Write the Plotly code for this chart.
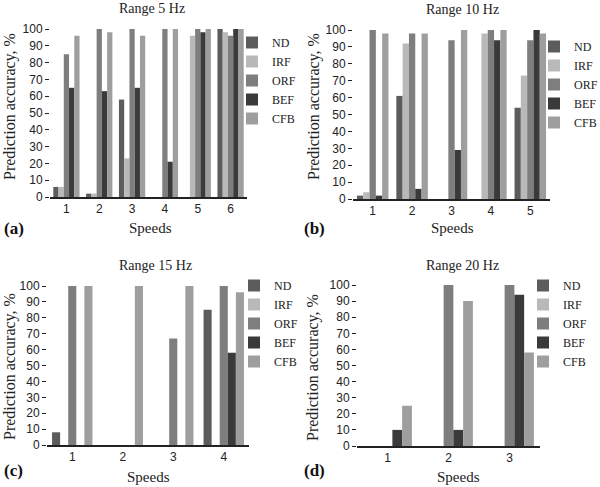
import plotly.graph_objects as go

# Series names and colours
faults = ["ND", "IRF", "ORF", "BEF", "CFB"]
colors = ["#5c5c5c", "#b9b9b9", "#7e7e7e", "#3a3a3a", "#9e9e9e"]

# Range 5 Hz
speeds_5 = ["1", "2", "3", "4", "5", "6"]
nd_5 = [6, 2, 58, 0, 0, 100]
irf_5 = [6, 2, 23, 0, 96, 98]
orf_5 = [85, 100, 100, 100, 100, 96]
bef_5 = [65, 63, 65, 21, 98, 100]
cfb_5 = [96, 98, 96, 100, 100, 100]

# Range 10 Hz
speeds_10 = ["1", "2", "3", "4", "5"]
nd_10 = [2, 61, 0, 0, 54]
irf_10 = [4, 92, 0, 98, 73]
orf_10 = [100, 98, 94, 100, 94]
bef_10 = [2, 6, 29, 94, 100]
cfb_10 = [98, 98, 100, 100, 98]

# Range 15 Hz
speeds_15 = ["1", "2", "3", "4"]
nd_15 = [8, 0, 0, 85]
irf_15 = [0, 0, 0, 0]
orf_15 = [100, 0, 67, 100]
bef_15 = [0, 0, 0, 58]
cfb_15 = [100, 100, 100, 96]

# Range 20 Hz
speeds_20 = ["1", "2", "3"]
nd_20 = [0, 0, 0]
irf_20 = [0, 0, 0]
orf_20 = [0, 100, 100]
bef_20 = [10, 10, 94]
cfb_20 = [25, 90, 58]

panels = [
    ("Range 5 Hz", "(a)", speeds_5, [nd_5, irf_5, orf_5, bef_5, cfb_5]),
    ("Range 10 Hz", "(b)", speeds_10, [nd_10, irf_10, orf_10, bef_10, cfb_10]),
    ("Range 15 Hz", "(c)", speeds_15, [nd_15, irf_15, orf_15, bef_15, cfb_15]),
    ("Range 20 Hz", "(d)", speeds_20, [nd_20, irf_20, orf_20, bef_20, cfb_20]),
]

W, H = 600, 487
SERIF = "Liberation Serif"
SANS = "Liberation Sans"

# pixel boxes of each plot area: left, right, top, bottom
boxes = [(50, 247, 29, 197), (353, 550, 30, 199), (47, 249, 286, 445), (357, 540, 285, 446)]
legend_pos = [(232, 28), (534, 32), (234, 271), (523, 271)]
title_pos = [(152, 9), (462, 10), (155, 265), (463, 265)]
speeds_pos = [(150, 228), (452, 228), (148, 477), (458, 477)]
letter_pos = [(2, 228), (302, 228), (2, 470), (302, 470)]
ytitle_pos = [(10, 107), (314, 107), (10, 367), (313, 367)]


def px(x):
    return x / W


def py(y):
    return 1 - y / H


fig = go.Figure()
layout = {}
annotations = []


def note(text, x, y, size, xanchor="center", angle=0, color="#222"):
    return dict(text=text, x=px(x), y=py(y), xref="paper", yref="paper",
                xanchor=xanchor, yanchor="middle", textangle=angle, showarrow=False,
                font=dict(family=SERIF, size=size, color=color))


for i, (title, letter, speeds, series) in enumerate(panels):
    n = "" if i == 0 else str(i + 1)
    leg = "legend" + n
    for name, col, vals in zip(faults, colors, series):
        fig.add_trace(go.Bar(
            x=speeds, y=vals, name=name, marker_color=col, marker_line_width=0,
            xaxis="x" + n, yaxis="y" + n, legend=leg,
        ))
    l, r, t, b = boxes[i]
    layout["xaxis" + n] = dict(
        domain=[px(l), px(r)], anchor="y" + n, showline=True, linecolor="#222",
        linewidth=1.5, ticks="", tickfont=dict(family=SANS, size=12, color="#222"),
        showgrid=False, fixedrange=True,
    )
    layout["yaxis" + n] = dict(
        domain=[py(b), py(t)], anchor="x" + n, range=[0, 100], dtick=10,
        showline=False, ticks="outside", ticklen=4, tickcolor="#222",
        tickfont=dict(family=SANS, size=12, color="#222"), showgrid=False,
        zeroline=False, fixedrange=True,
    )
    lx, ly = legend_pos[i]
    layout[leg] = dict(
        x=px(lx), y=py(ly), xanchor="left", yanchor="top",
        font=dict(family=SERIF, size=12, color="#222"), bgcolor="rgba(0,0,0,0)",
        itemwidth=30, tracegroupgap=0,
    )
    tx, ty = title_pos[i]
    annotations.append(note(title, tx, ty, 14))
    sx, sy = speeds_pos[i]
    annotations.append(note("Speeds", sx, sy, 15))
    ax_, ay_ = letter_pos[i]
    annotations.append(note("<b>" + letter + "</b>", ax_, ay_, 17, xanchor="left", color="#111"))
    yx, yy = ytitle_pos[i]
    annotations.append(note("Prediction accuracy, %", yx, yy, 16, angle=-90))

fig.update_layout(
    width=W, height=H, margin=dict(l=0, r=0, t=0, b=0, autoexpand=False),
    paper_bgcolor="white", plot_bgcolor="white",
    barmode="group", bargap=0.2, bargroupgap=0,
    annotations=annotations, **layout,
)

# page body has a default 8px margin; drop it so the figure fills the window
fig.write_html("out.html", config={"displayModeBar": False},
               post_script="document.body.style.margin='0';")
